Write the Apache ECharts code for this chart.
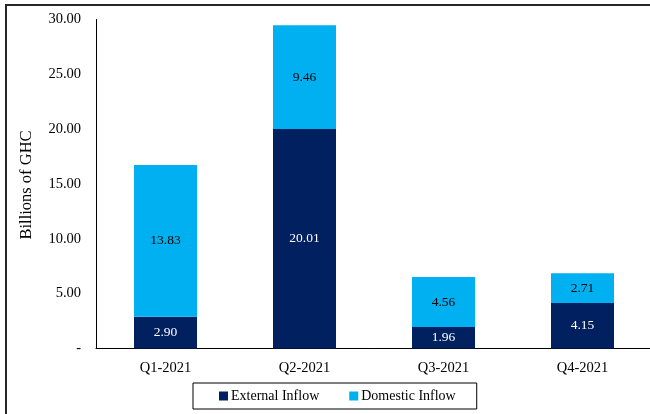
<!DOCTYPE html>
<html>
<head>
<meta charset="utf-8">
<script src="https://cdn.jsdelivr.net/npm/echarts@6/dist/echarts.min.js"></script>
<style>
  html, body { margin: 0; padding: 0; background: #fff; overflow: hidden; }
  #chart { width: 660px; height: 414px; }
</style>
</head>
<body>
<div id="chart"></div>
<script>
// Quarterly inflows, billions of GHC
const quarters = ['Q1-2021', 'Q2-2021', 'Q3-2021', 'Q4-2021'];
const externalInflow = [2.90, 20.01, 1.96, 4.15];
const domesticInflow = [13.83, 9.46, 4.56, 2.71];
const yTicks = [0, 5, 10, 15, 20, 25, 30];

const serif = '"Liberation Serif", "Times New Roman", serif';
const chart = echarts.init(document.getElementById('chart'), null, { renderer: 'canvas' });

chart.setOption({
  animation: false,
  textStyle: { fontFamily: serif },
  grid: { left: 96, top: 19.5, width: 556, height: 329 },
  graphic: [
    {
      type: 'rect',
      shape: { x: 6, y: 5, width: 700, height: 500 },
      style: { fill: 'none', stroke: '#262626', lineWidth: 2 },
      silent: true
    },
    {
      type: 'text',
      x: 27, y: 185,
      rotation: Math.PI / 2,
      style: {
        text: 'Billions of GHC',
        font: '16.5px ' + serif,
        fill: '#000',
        align: 'center',
        verticalAlign: 'middle'
      }
    }
  ],
  legend: {
    left: 193, top: 383,
    padding: [6, 21, 6, 26],
    borderColor: '#000', borderWidth: 1,
    itemWidth: 9, itemHeight: 9, itemGap: 30,
    icon: 'rect',
    textStyle: { fontFamily: serif, fontSize: 14, color: '#000', padding: [0, 0, 0, -2] },
    data: ['External Inflow', 'Domestic Inflow']
  },
  xAxis: {
    type: 'category',
    data: quarters,
    axisLine: { lineStyle: { color: '#000', width: 1 } },
    axisTick: { show: false },
    axisLabel: { color: '#000', fontSize: 14.5, margin: 12, fontFamily: serif }
  },
  yAxis: {
    type: 'value',
    min: yTicks[0], max: yTicks[yTicks.length - 1], interval: 5,
    splitLine: { show: false },
    axisLine: { show: true, lineStyle: { color: '#000', width: 1 } },
    axisTick: { show: false },
    axisLabel: {
      color: '#000', fontSize: 14.5, margin: 15, fontFamily: serif,
      formatter: v => v === 0 ? '-' : v.toFixed(2)
    }
  },
  series: [
    {
      name: 'External Inflow',
      type: 'bar',
      stack: 'total',
      barWidth: 63,
      data: externalInflow,
      itemStyle: { color: '#002060' },
      label: {
        show: true, position: 'inside', color: '#fff',
        fontSize: 13.5, fontFamily: serif,
        formatter: p => p.value.toFixed(2)
      }
    },
    {
      name: 'Domestic Inflow',
      type: 'bar',
      stack: 'total',
      barWidth: 63,
      data: domesticInflow,
      itemStyle: { color: '#00B0F0' },
      label: {
        show: true, position: 'inside', color: '#000',
        fontSize: 13.5, fontFamily: serif,
        formatter: p => p.value.toFixed(2)
      }
    }
  ]
});
</script>
</body>
</html>
